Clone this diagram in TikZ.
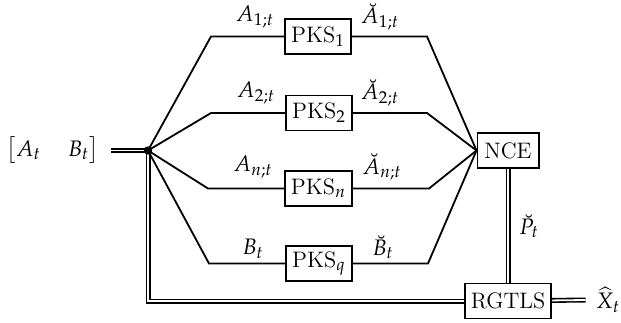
\documentclass[tikz,border=0pt]{standalone}
\usepackage{mathpazo}
\DeclareMathSizes{11.2}{11.2}{8.6}{6.5}
\begin{document}
\begin{tikzpicture}[x=0.5pt,y=-0.5pt,
  font=\fontsize{11.2}{13}\selectfont,
  box/.style={draw, line width=0.9pt, inner xsep=3pt, inner ysep=0pt,
              minimum height=17.5pt, fill=white},
  wire/.style={line width=0.9pt},
  dbl/.style={double, double distance=0.9pt, line width=0.8pt},
  dot/.style={circle, fill, inner sep=0pt, minimum size=4.2pt},
  lbl/.style={inner sep=0pt}]
\useasboundingbox (0,0) rectangle (621,322);

% processing blocks
\node[box] (pks1) at (318,36.5)  {PKS$_1$};
\node[box] (pks2) at (319,113)   {PKS$_2$};
\node[box] (pksn) at (318.5,188.5) {PKS$_n$};
\node[box] (pksq) at (319,263.5) {PKS$_q$};
\node[box, inner xsep=3.5pt] (nce)  at (508,150.5) {NCE};
\node[box] (rg)   at (508,301)   {RGTLS};

% input and output
\node[lbl] (in) at (52.5,150.5) {$\bigl[A_t\hspace{1.2em}B_t\bigr]$};
\node[lbl] (xh) at (608,300) {$\widehat{X}_t$};
\coordinate (j) at (148,150.5);
\coordinate (c) at (148,301);

% bend points of the branches
\coordinate (a1) at (211,36.5);  \coordinate (b1) at (427,36.5);
\coordinate (a2) at (211,113);   \coordinate (b2) at (427,113);
\coordinate (an) at (208,188.5); \coordinate (bn) at (429,188.5);
\coordinate (aq) at (209,263.5); \coordinate (bq) at (428,263.5);

% branches
\draw[wire] (j) -- (a1) -- (pks1) -- (b1) -- (nce.west);
\draw[wire] (j) -- (a2) -- (pks2) -- (b2) -- (nce.west);
\draw[wire] (j) -- (an) -- (pksn) -- (bn) -- (nce.west);
\draw[wire] (j) -- (aq) -- (pksq) -- (bq) -- (nce.west);

% vector links
\draw[dbl] ([xshift=6pt]in.east) -- (j);
\draw[dbl] (j) -- (c) -- (rg.west);
\draw[dbl] (nce) -- (rg);
\draw[dbl] (rg) -- ([xshift=-5pt]xh.west);

\node[dot] (jd) at (j) {};

% signal labels
\node[lbl] (la1) at (255,17)  {$A_{1;t}$};
\node[lbl] (lb1) at (380,17)  {$\breve{A}_{1;t}$};
\node[lbl] (la2) at (256,93)  {$A_{2;t}$};
\node[lbl] (lb2) at (380,93)  {$\breve{A}_{2;t}$};
\node[lbl] (lan) at (253,167) {$A_{n;t}$};
\node[lbl] (lbn) at (382,167) {$\breve{A}_{n;t}$};
\node[lbl] (laq) at (253,249) {$B_t$};
\node[lbl] (lbq) at (383,247) {$\breve{B}_t$};
\node[lbl] (lp)  at (529,226) {$\breve{P}_t$};
\end{tikzpicture}
\end{document}
